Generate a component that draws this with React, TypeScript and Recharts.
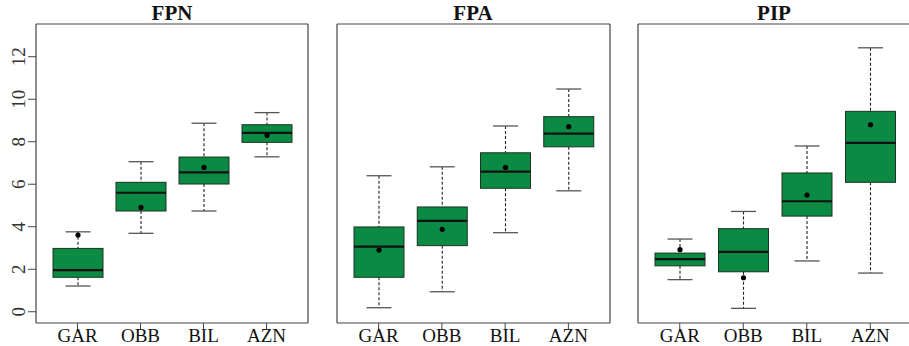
import React from 'react';
import { ComposedChart, Bar, XAxis, YAxis } from 'recharts';

// ─── Data ────────────────────────────────────────────────────────────────────

const sites = ['GAR', 'OBB', 'BIL', 'AZN'];
const yTicks = [0, 2, 4, 6, 8, 10, 12];
const yDomain: [number, number] = [-0.53, 13.54];

// per site: [min, q1, median, q3, max, mean]
const fpn = [
  [1.21, 1.62, 1.96, 2.98, 3.76, 3.61],
  [3.69, 4.74, 5.6, 6.09, 7.06, 4.91],
  [4.74, 6.01, 6.56, 7.28, 8.87, 6.79],
  [7.29, 7.97, 8.42, 8.8, 9.37, 8.3],
];
const fpa = [
  [0.19, 1.62, 3.06, 3.99, 6.4, 2.9],
  [0.94, 3.11, 4.28, 4.93, 6.82, 3.88],
  [3.72, 5.81, 6.59, 7.48, 8.74, 6.79],
  [5.69, 7.76, 8.38, 9.18, 10.48, 8.71],
];
const pip = [
  [1.51, 2.16, 2.48, 2.76, 3.42, 2.92],
  [0.16, 1.88, 2.82, 3.91, 4.72, 1.6],
  [2.39, 4.5, 5.2, 6.53, 7.8, 5.49],
  [1.82, 6.09, 7.95, 9.43, 12.42, 8.8],
];

const panels = [
  { title: 'FPN', stats: fpn, left: 0, marginLeft: 0, showY: true },
  { title: 'FPA', stats: fpa, left: 320, marginLeft: 16, showY: false },
  { title: 'PIP', stats: pip, left: 620, marginLeft: 17, showY: false },
];

const toRows = (stats: number[][]) =>
  stats.map((s, i) => ({
    site: sites[i], min: s[0], q1: s[1], median: s[2], q3: s[3], max: s[4], mean: s[5],
  }));

// ─── Box shape ───────────────────────────────────────────────────────────────

const GREEN = '#0a8a42';
const FRAME = '#444';
const FONT = '"Liberation Serif", "Times New Roman", serif';

function BoxShape(props: any) {
  const { x, y, width, height, payload } = props;
  const { min, q1, median, q3, max, mean } = payload;
  // y is pixel of max, y + height is pixel of min
  const py = (v: number) => y + (height * (max - v)) / (max - min);
  const cx = x + width / 2;
  const cap = width / 2;
  return (
    <g>
      <line x1={cx} x2={cx} y1={py(max)} y2={py(q3)} stroke="#222" strokeWidth={1.1} strokeDasharray="3 2" />
      <line x1={cx} x2={cx} y1={py(q1)} y2={py(min)} stroke="#222" strokeWidth={1.1} strokeDasharray="3 2" />
      <line x1={cx - cap / 2} x2={cx + cap / 2} y1={py(max)} y2={py(max)} stroke="#555" strokeWidth={1.3} />
      <line x1={cx - cap / 2} x2={cx + cap / 2} y1={py(min)} y2={py(min)} stroke="#555" strokeWidth={1.3} />
      <rect x={x} y={py(q3)} width={width} height={py(q1) - py(q3)} fill={GREEN} stroke="#1c3322" strokeWidth={1} />
      <line x1={x} x2={x + width} y1={py(median)} y2={py(median)} stroke="#111" strokeWidth={2.2} />
      <circle cx={cx} cy={py(mean)} r={2.6} fill="#000" />
    </g>
  );
}

const XTick = (props: any) => {
  const { x, y, payload } = props;
  return (
    <text x={x} y={y + 10} textAnchor="middle" fontFamily={FONT} fontSize={19} fill="#111">
      {payload.value}
    </text>
  );
};

const YTick = (props: any) => {
  const { x, y, payload } = props;
  return (
    <text
      x={x - 1}
      y={y}
      transform={`rotate(-90 ${x - 1} ${y})`}
      textAnchor="middle"
      fontFamily={FONT}
      fontSize={19}
      fill="#333"
    >
      {payload.value}
    </text>
  );
};

function Panel({ title, stats, left, marginLeft, showY }: any) {
  const rows = toRows(stats);
  const width = showY ? 320 : 300;
  const marginRight = showY ? 11 : left > 600 ? 7 : 9;
  return (
    <div style={{ position: 'absolute', left, top: 0, width, height: 346 }}>
      <div
        style={{
          position: 'absolute', top: 1, left: marginLeft + (showY ? 36 : 1), width: 272,
          textAlign: 'center', fontFamily: FONT, fontWeight: 'bold', fontSize: 21, color: '#111',
        }}
      >
        {title}
      </div>
      <ComposedChart
        width={width}
        height={346}
        data={rows}
        margin={{ top: 23, right: marginRight, bottom: 0, left: marginLeft }}
      >
        <XAxis
          dataKey="site"
          height={23}
          padding={{ left: 10, right: 10 }}
          axisLine={{ stroke: FRAME, strokeWidth: 1.2 }}
          tickLine={{ stroke: FRAME }}
          tickSize={7}
          tick={<XTick />}
          interval={0}
        />
        <XAxis
          xAxisId="top"
          dataKey="site"
          orientation="top"
          height={1}
          tick={false}
          tickLine={false}
          axisLine={{ stroke: FRAME, strokeWidth: 1.2 }}
        />
        <YAxis
          type="number"
          domain={yDomain}
          ticks={yTicks}
          allowDataOverflow
          width={showY ? 36 : 1}
          axisLine={{ stroke: FRAME, strokeWidth: 1.2 }}
          tickLine={showY ? { stroke: FRAME } : false}
          tickSize={8}
          tick={showY ? <YTick /> : false}
        />
        <YAxis
          yAxisId="right"
          orientation="right"
          type="number"
          domain={yDomain}
          width={1}
          tick={false}
          tickLine={false}
          axisLine={{ stroke: FRAME, strokeWidth: 1.2 }}
        />
        <Bar
          dataKey={(d: any) => [d.min, d.max]}
          barSize={50}
          shape={<BoxShape />}
          isAnimationActive={false}
        />
      </ComposedChart>
    </div>
  );
}

export default function App() {
  return (
    <div
      style={{
        position: 'absolute', left: 0, top: 0, width: 909, height: 346,
        overflow: 'hidden', background: '#fff',
      }}
    >
      {panels.map(p => (
        <Panel key={p.title} {...p} />
      ))}
    </div>
  );
}
